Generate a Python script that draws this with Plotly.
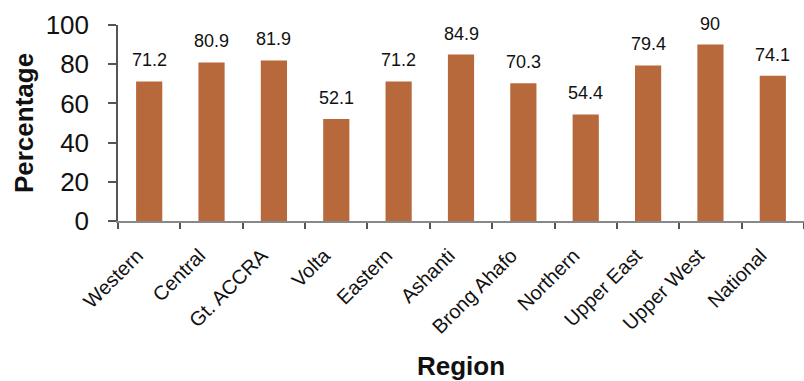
import plotly.graph_objects as go

regions = ["Western", "Central", "Gt. ACCRA", "Volta", "Eastern", "Ashanti",
           "Brong Ahafo", "Northern", "Upper East", "Upper West", "National"]
percentages = [71.2, 80.9, 81.9, 52.1, 71.2, 84.9, 70.3, 54.4, 79.4, 90, 74.1]
y_ticks = [0, 20, 40, 60, 80, 100]

bar_color = "#B7693C"
font_family = "Liberation Sans, Arial, sans-serif"
ink = "#111111"

fig = go.Figure(go.Bar(
    x=regions,
    y=percentages,
    marker=dict(color=bar_color, line=dict(width=0)),
    width=0.42,
))

for r, v in zip(regions, percentages):
    fig.add_annotation(
        x=r, y=v, text=f"{v:g}", showarrow=False,
        yanchor="bottom", yshift=9,
        font=dict(family=font_family, size=18, color=ink),
    )

fig.update_layout(
    width=804, height=381,
    margin=dict(l=118, r=0, t=25, b=160),
    paper_bgcolor="white", plot_bgcolor="white",
    showlegend=False,
    font=dict(family=font_family, color=ink),
)

fig.update_yaxes(
    range=[0, 100], tickvals=y_ticks,
    showgrid=False, zeroline=False,
    showline=True, linecolor="#555555", linewidth=1.5,
    ticks="outside", ticklen=8, tickcolor="#555555", tickwidth=1.5,
    tickfont=dict(size=26, family=font_family, color=ink),
    ticklabelstandoff=14,
    title=dict(text="<b>Percentage</b>", font=dict(size=26, family=font_family, color=ink), standoff=5),
)

fig.update_xaxes(
    showgrid=False, zeroline=False,
    showline=True, linecolor="#888888", linewidth=2,
    ticks="outside", ticklen=6, tickcolor="#555555", tickwidth=1.5,
    tickson="boundaries",
    tickangle=-45,
    tickfont=dict(size=20, family=font_family, color=ink),
    ticklabelstandoff=13,
    ticklabelshift=-12,
    title=dict(text="<b>Region</b>", font=dict(size=26, family=font_family, color=ink), standoff=24),
)

fig.write_html("out.html")
